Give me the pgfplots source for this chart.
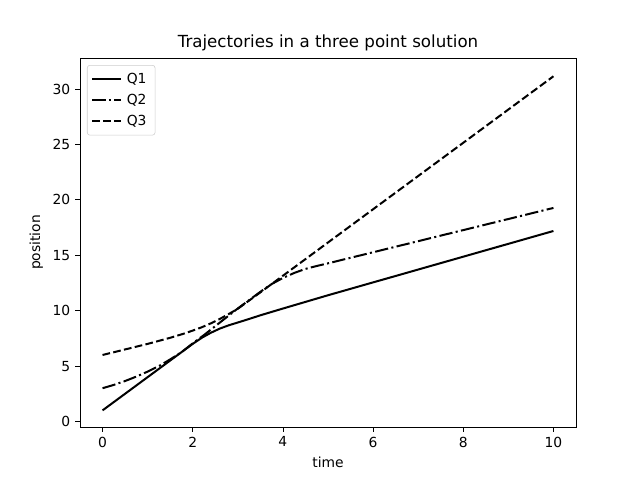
\documentclass[border=0pt]{standalone}
\usepackage{fontspec}
\setmainfont{DejaVu Sans}
\usepackage{pgfplots}
\pgfplotsset{compat=1.18}

% trajectories
\pgfplotstableread{
x    y
0    1
0.5  2.5
1    4
1.5  5.5
2    7.0
2.2  7.55
2.4  8.0
2.6  8.38
2.8  8.68
3.0  8.93
3.25 9.25
3.5  9.58
4    10.19
5    11.39
6    12.55
7    13.71
8    14.87
9    16.03
10   17.19
}\qone
\pgfplotstableread{
x    y
0    3
0.25 3.3
0.5  3.65
0.75 4.05
1.0  4.5
1.25 5.0
1.5  5.6
1.75 6.25
2.0  7.05
2.25 7.8
2.5  8.6
2.75 9.4
3.0  10.2
3.25 10.95
3.5  11.7
3.75 12.4
4.0  12.95
4.25 13.4
4.5  13.77
4.75 14.03
5    14.27
6    15.27
7    16.27
8    17.27
9    18.27
10   19.27
}\qtwo
\pgfplotstableread{
x    y
0    6
0.5  6.5
1    7.0
1.5  7.55
1.8  7.92
2.0  8.2
2.2  8.5
2.4  8.85
2.6  9.25
2.8  9.7
3.0  10.17
3.5  11.65
4    13.15
6    19.15
8    25.15
10   31.15
}\qthree

\begin{document}
\fontsize{10.4pt}{12.5pt}\selectfont
\begin{tikzpicture}
\path (-60pt,-39.75pt) rectangle (420pt,320.25pt);
\begin{axis}[
  at={(0,0)}, anchor=south west,
  scale only axis, width=372pt, height=276.75pt,
  xmin=-0.5, xmax=10.5, ymin=-0.5, ymax=32.8,
  xtick={0,2,...,10}, ytick={0,5,...,30},
  tick align=outside, tick pos=left, major tick length=3.65pt,
  axis line style={line width=0.6pt},
  every tick/.style={black, line width=0.6pt},
  /pgf/number format/assume math mode=true,
  tick label style={font=\fontsize{10.4pt}{12pt}\selectfont},
  title={Trajectories in a three point solution},
  title style={font=\fontsize{12.5pt}{15pt}\selectfont, yshift=-4.5pt},
  xlabel={time}, ylabel={position},
  label style={font=\fontsize{10.4pt}{12pt}\selectfont},
  legend style={at={(0,1)}, anchor=north west, xshift=5.25pt, yshift=-5.25pt,
    draw=black!20, rounded corners=2pt, font=\fontsize{10.4pt}{12pt}\selectfont,
    row sep=2.3pt, inner xsep=3pt, inner ysep=4pt,
    nodes={inner xsep=3.4pt}},
  legend cell align=left,
  legend image code/.code={\draw[#1] (0pt,0pt) -- (21.75pt,0pt);},
]
\addplot[black, line width=1.5pt] table {\qone};
\addlegendentry{Q1}
\addplot[black, line width=1.5pt, dash pattern=on 10pt off 2.5pt on 1.56pt off 2.5pt] table {\qtwo};
\addlegendentry{Q2}
\addplot[black, line width=1.5pt, dash pattern=on 5.78pt off 2.5pt] table {\qthree};
\addlegendentry{Q3}
\end{axis}
\end{tikzpicture}
\end{document}
